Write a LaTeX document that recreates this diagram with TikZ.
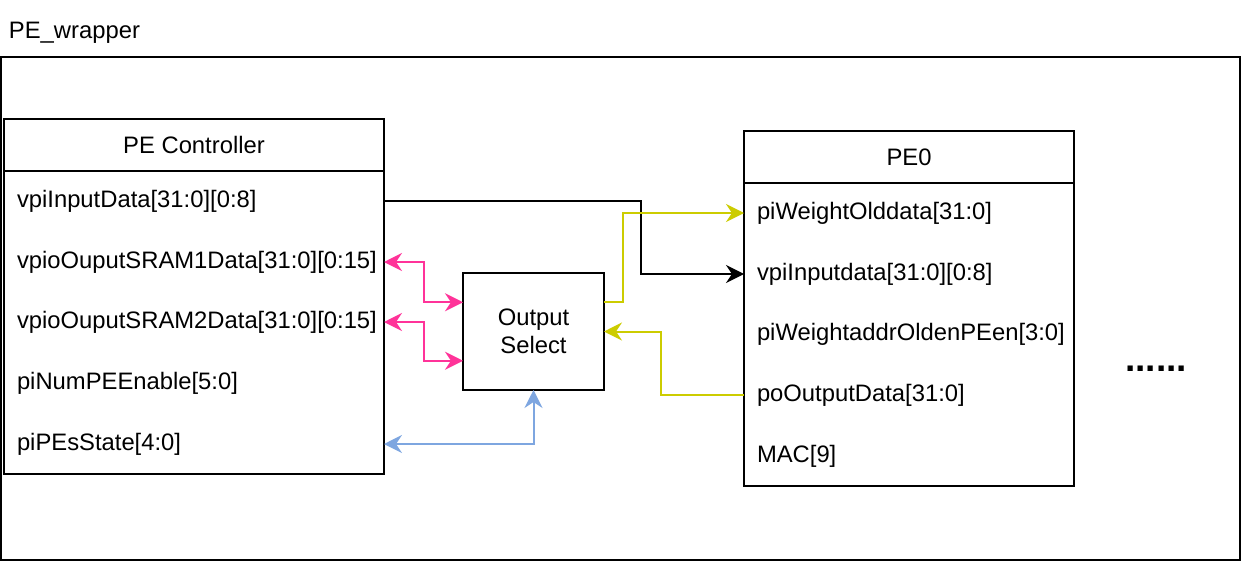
\documentclass[tikz,border=0pt]{standalone}
\usepackage{fontspec}
\setmainfont{Liberation Sans}
\usetikzlibrary{positioning, calc, arrows.meta}
\definecolor{pinkline}{HTML}{FF3399}
\definecolor{yellowline}{HTML}{CCCC00}
\definecolor{blueline}{HTML}{7EA6E0}
\tikzset{
  -|-/.style={
    to path={
      (\tikztostart) -| ($(\tikztostart)!#1!(\tikztotarget)$) |- (\tikztotarget)
      \tikztonodes
    }
  },
  -|-/.default=0.5,
  box/.style={rectangle, draw, inner sep=0, outer sep=0, line width=2pt},
  port/.style={anchor=west, inner sep=0},
}

\begin{document}
\begin{tikzpicture}[x=1pt, y=-1pt, line width=2pt, font=\fontsize{23.8}{28}\selectfont,
  >={Stealth[length=18pt, width=18pt, inset=6pt]}]
\useasboundingbox (0,0) rectangle (1242,562);
%wrapper
\node[box, minimum width=1239pt, minimum height=503pt, anchor=north west] (wrapper) at (1,57) {};
\node[anchor=base west, inner sep=0] (wrapper_label) at (8,38) {PE\_wrapper};
%controller with its ports
\node[box, minimum width=380pt, minimum height=52pt, anchor=north west] (ctrl_head) at (4,119) {PE Controller};
\node[box, minimum width=380pt, minimum height=303pt, below=0pt of ctrl_head] (ctrl) {};
\node[port] (ctrl_in) at ([xshift=12pt, yshift=-30pt]ctrl.north west) {vpiInputData[31:0][0:8]};
\node[port] (ctrl_sram1) at ([xshift=12pt, yshift=-91pt]ctrl.north west) {vpioOuputSRAM1Data[31:0][0:15]};
\node[port] (ctrl_sram2) at ([xshift=12pt, yshift=-151pt]ctrl.north west) {vpioOuputSRAM2Data[31:0][0:15]};
\node[port] (ctrl_num) at ([xshift=12pt, yshift=-212pt]ctrl.north west) {piNumPEEnable[5:0]};
\node[port] (ctrl_state) at ([xshift=12pt, yshift=-273pt]ctrl.north west) {piPEsState[4:0]};
%output select
\node[box, minimum width=141pt, minimum height=117pt, align=center] (sel) at (533.5,331.5) {Output\\Select};
%PE0 with its ports
\node[box, minimum width=330pt, minimum height=52pt, anchor=north west] (pe_head) at (744,131) {PE0};
\node[box, minimum width=330pt, minimum height=303pt, below=0pt of pe_head] (pe) {};
\node[port] (pe_wold) at ([xshift=12pt, yshift=-30pt]pe.north west) {piWeightOlddata[31:0]};
\node[port] (pe_in) at ([xshift=12pt, yshift=-91pt]pe.north west) {vpiInputdata[31:0][0:8]};
\node[port] (pe_waddr) at ([xshift=12pt, yshift=-151pt]pe.north west) {piWeightaddrOldenPEen[3:0]};
\node[port] (pe_out) at ([xshift=12pt, yshift=-212pt]pe.north west) {poOutputData[31:0]};
\node[port] (pe_mac) at ([xshift=12pt, yshift=-273pt]pe.north west) {MAC[9]};
%more PEs
\node[font=\fontsize{37}{40}\selectfont\bfseries, anchor=base] (more_pe) at (1156,371) {......};
% links
\draw[->] (ctrl.east |- ctrl_in) to[-|-=0.714] (pe.west |- pe_in);
\draw[->, yellowline] ($(sel.north east)!.25!(sel.south east)$) to[-|-=0.136] (pe.west |- pe_wold);
\draw[->, yellowline] (pe.west |- pe_out) to[-|-=0.593] (sel.east);
\draw[<->, pinkline] (ctrl.east |- ctrl_sram1) to[-|-] ($(sel.north west)!.25!(sel.south west)$);
\draw[<->, pinkline] (ctrl.east |- ctrl_sram2) to[-|-] ($(sel.north west)!.75!(sel.south west)$);
\draw[<->, blueline] (ctrl.east |- ctrl_state) -| (sel.south);
\end{tikzpicture}
\end{document}
